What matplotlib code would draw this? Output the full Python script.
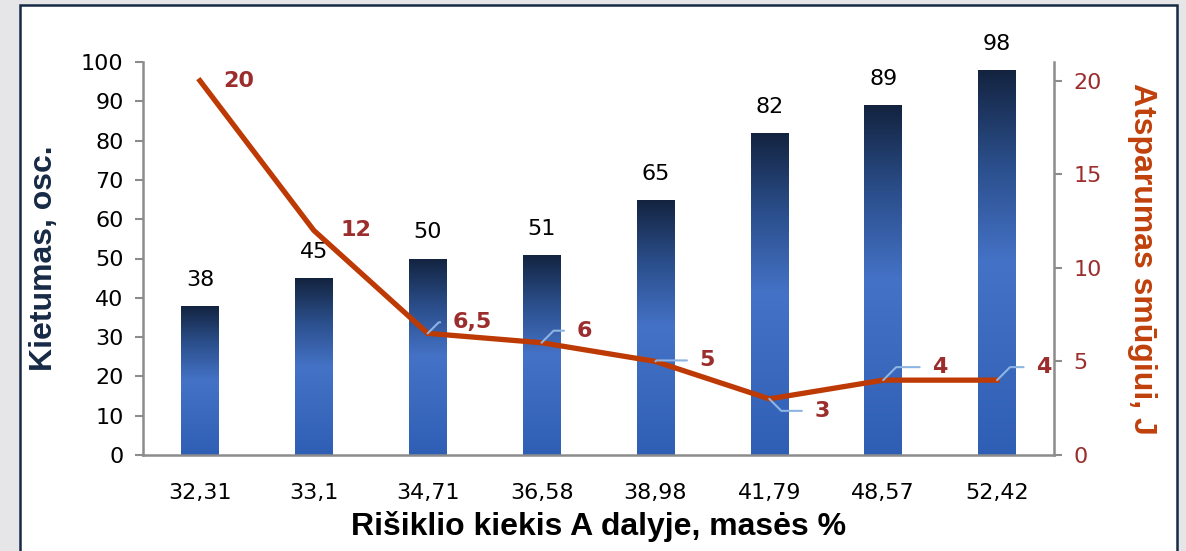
import numpy as np
import matplotlib.pyplot as plt
from matplotlib.colors import LinearSegmentedColormap
from matplotlib.patches import Rectangle

categories = ['32,31', '33,1', '34,71', '36,58', '38,98', '41,79', '48,57', '52,42']
hardness = [38, 45, 50, 51, 65, 82, 89, 98]
impact = [20, 12, 6.5, 6, 5, 3, 4, 4]
impact_labels = ['20', '12', '6,5', '6', '5', '3', '4', '4']

# label offsets (pixels) and whether a leader line is drawn
lbl_off = [(23, 0), (27, 0), (25, 11), (35, 12), (44, 1), (45, -12), (49, 13), (39, 13)]
leader = [False, False, True, True, True, True, True, True]

fig = plt.figure(figsize=(11.86, 5.51), dpi=100)
fig.patch.set_facecolor('#e6e6e8')
fig.patches.append(Rectangle((20 / 1186, -0.05), (1177 - 20) / 1186, 1 - 5 / 551 + 0.05,
                             transform=fig.transFigure, facecolor='white',
                             edgecolor='#172a45', linewidth=1.8, zorder=-10))

ax = fig.add_axes([143 / 1186, 1 - 455 / 551, (1054 - 143) / 1186, (455 - 62) / 551])
ax.set_facecolor('none')
x = np.arange(len(categories))

bars = ax.bar(x, hardness, width=0.33, color='none', edgecolor='none', zorder=2)
cmap = LinearSegmentedColormap.from_list('g', [(0, '#2f5fb5'), (0.5, '#4472c6'), (0.75, '#2b4f8c'), (1, '#13233f')])
grad = np.linspace(0, 1, 256).reshape(-1, 1)
for b in bars:
    x0, w, h = b.get_x(), b.get_width(), b.get_height()
    im = ax.imshow(grad, cmap=cmap, origin='lower', aspect='auto',
                   extent=(x0, x0 + w, 0, h), zorder=2)
    im.set_clip_path(b)
    ax.annotate(str(h), (x0 + w / 2, h), xytext=(0, 16), textcoords='offset pixels',
                ha='center', va='bottom', fontsize=16, color='black')

ax.set_xlim(-0.5, len(categories) - 0.5)
ax.set_ylim(0, 100)
ax.set_yticks(range(0, 101, 10))
ax.set_xticks(x)
ax.set_xticklabels(categories)
ax.tick_params(axis='y', labelsize=16, color='#8c8c8c', length=6, width=1.5, pad=8)
ax.tick_params(axis='x', labelsize=16, length=0, pad=20)
for s in ['top', 'right']:
    ax.spines[s].set_visible(False)
for s in ['left', 'bottom']:
    ax.spines[s].set_color('#8c8c8c')
    ax.spines[s].set_linewidth(1.8)
ax.set_xlabel('Rišiklio kiekis A dalyje, masės %', fontsize=23, fontweight='bold',
              family='Liberation Sans', labelpad=6)
ax.set_ylabel('Kietumas, osc.', fontsize=23, fontweight='bold', color='#172a45',
              family='Liberation Sans', labelpad=16)

ax2 = ax.twinx()
ax2.plot(x, impact, color='#bd3a04', linewidth=3.8, zorder=3, solid_joinstyle='miter')
ax2.set_ylim(0, 21)
ax2.set_yticks(range(0, 21, 5))
ax2.tick_params(axis='y', labelsize=16, labelcolor='#9b2d2d', color='#8c8c8c', length=6, width=1.5, pad=8)
for s in ['top', 'left', 'bottom']:
    ax2.spines[s].set_visible(False)
ax2.spines['right'].set_color('#8c8c8c')
ax2.spines['right'].set_linewidth(1.8)
ax2.set_ylabel('Atsparumas smūgiui, J', fontsize=23, fontweight='bold', color='#c0400a',
               family='Liberation Sans', rotation=-90, labelpad=40)

for xi, yi, t, off, ld in zip(x, impact, impact_labels, lbl_off, leader):
    ap = None
    if ld:
        ang = 45 if off[1] >= 0 else -45
        ap = dict(arrowstyle='-', color='#8db4e2', lw=1.5, shrinkA=7, shrinkB=0,
                  relpos=(0, 0.5), connectionstyle='angle,angleA=180,angleB=%d,rad=0' % ang)
    ax2.annotate(t, (xi, yi), xytext=off, textcoords='offset pixels', ha='left', va='center',
                 fontsize=16, fontweight='bold', color='#9b2d2d', arrowprops=ap, zorder=4)

fig.savefig('out.png', dpi=100, facecolor=fig.get_facecolor())
